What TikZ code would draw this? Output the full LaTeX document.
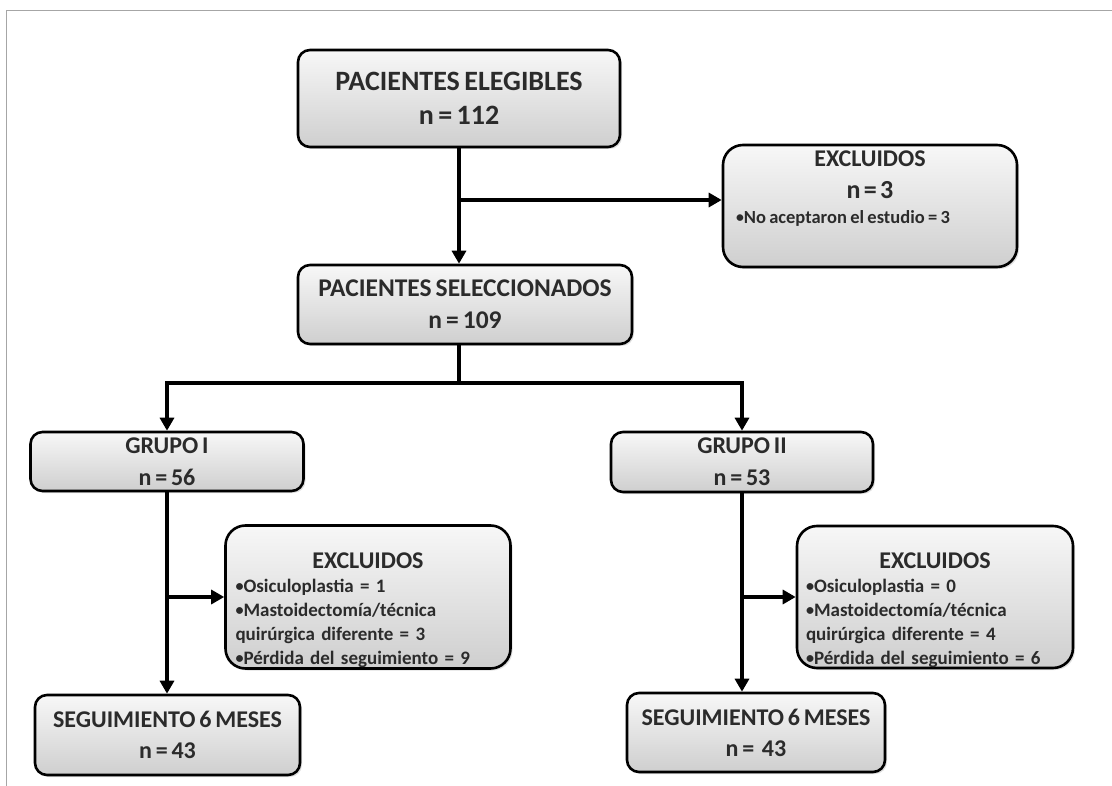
\documentclass[tikz,border=0pt]{standalone}
\usepackage{fontspec}
\setmainfont{Carlito}[WordSpace=0.7]
\usepackage{tikz}
\usetikzlibrary{arrows.meta,shadows}

\newcommand{\smbul}{\raisebox{0.1ex}{\scalebox{0.85}{•}}}

\begin{document}
\begin{tikzpicture}[x=1pt,y=-1pt]

        \useasboundingbox (0,0) rectangle (1112,786);
        \definecolor{txtgray}{HTML}{2B2B2B}
        \tikzstyle{flowbox}=[draw=black,line width=2.6pt,rounded corners=12pt,
            top color=gray!6,bottom color=gray!38,text=txtgray,align=center,
            inner sep=0pt,drop shadow={opacity=0.25,shadow xshift=2pt,shadow yshift=-2pt}]
        \tikzstyle{exclbox}=[flowbox,rounded corners=20pt,align=left]
        \tikzstyle{flowline}=[line width=3.2pt,black]
        \tikzstyle{flowarrow}=[flowline,-{Triangle[length=13pt,width=14pt]}]

        %% frame
        \draw[gray!70,line width=1pt] (6,786) -- (6,11) -- (1112,11);

        %% top of the chart
        \node[flowbox,minimum width=322pt,minimum height=97pt,
            font=\bfseries\fontsize{28}{34}\selectfont] (elig) at (459,98.5)
            {PACIENTES ELEGIBLES\\ n = 112};
        \node[exclbox,minimum width=294pt,minimum height=122pt,text width=268pt,
            inner xsep=13pt,font=\bfseries] (exclA) at (870,206)
            {{\centering\fontsize{24}{26}\selectfont EXCLUIDOS\par
              \fontsize{26}{32}\selectfont n = 3\par}
             {\fontsize{18.5}{25}\selectfont\smbul No aceptaron el estudio = 3\par}
             \rule{0pt}{34pt}};
        \node[flowbox,minimum width=334pt,minimum height=79pt,
            font=\bfseries\fontsize{25.5}{32}\selectfont] (selec) at (465,304.5)
            {PACIENTES SELECCIONADOS\\ n = 109};

        %% the two groups
        \node[flowbox,minimum width=273pt,minimum height=59pt,
            font=\bfseries\fontsize{24}{32}\selectfont] (grpA) at (167,461.5)
            {GRUPO I\\ n = 56};
        \node[flowbox,minimum width=262pt,minimum height=60pt,
            font=\bfseries\fontsize{24}{32}\selectfont] (grpB) at (742,462)
            {GRUPO II\\ n = 53};

        \node[exclbox,minimum width=285pt,minimum height=143pt,text width=265pt,
            inner xsep=10pt,font=\bfseries\fontsize{19}{24}\selectfont] (exclB) at (368,597)
            {\vskip 11pt
             {\centering\fontsize{24}{31}\selectfont EXCLUIDOS\par}
             \smbul Osiculoplastia = 1\\
             \smbul Mastoidectomía/técnica\\
             quirúrgica diferente = 3\\
             \smbul Pérdida del seguimiento = 9};
        \node[exclbox,minimum width=276pt,minimum height=142pt,text width=258pt,
            inner xsep=9pt,font=\bfseries\fontsize{19}{24}\selectfont] (exclC) at (935,597)
            {\vskip 11pt
             {\centering\fontsize{24}{31}\selectfont EXCLUIDOS\par}
             \smbul Osiculoplastia = 0\\
             \smbul Mastoidectomía/técnica\\
             quirúrgica diferente = 4\\
             \smbul Pérdida del seguimiento = 6};

        \node[flowbox,minimum width=265pt,minimum height=80pt,
            font=\bfseries\fontsize{24}{31}\selectfont] (segA) at (167.5,735)
            {SEGUIMIENTO 6 MESES\\ n = 43};
        \node[flowbox,minimum width=258pt,minimum height=79pt,
            font=\bfseries\fontsize{24}{31}\selectfont] (segB) at (756,732.5)
            {SEGUIMIENTO 6 MESES\\ n = \ 43};

        %% connectors
        \coordinate (brA) at (elig.south |- 0,200);
        \coordinate (split) at (elig.south |- 0,383);
        \draw[flowarrow] (elig.south) -- (elig.south |- selec.north);
        \draw[flowarrow] (brA) -- (brA -| exclA.west);
        \draw[flowline] (selec.south -| split) -- (split);
        \draw[flowarrow] (split) -| (grpA.north);
        \draw[flowarrow] (split) -| (grpB.north);

        \draw[flowarrow] (grpA.south) -- (grpA.south |- segA.north);
        \draw[flowarrow] (grpA.south |- exclB.west) -- (exclB.west);
        \draw[flowarrow] (grpB.south) -- (grpB.south |- segB.north);
        \draw[flowarrow] (grpB.south |- exclC.west) -- (exclC.west);

\end{tikzpicture}
\end{document}
